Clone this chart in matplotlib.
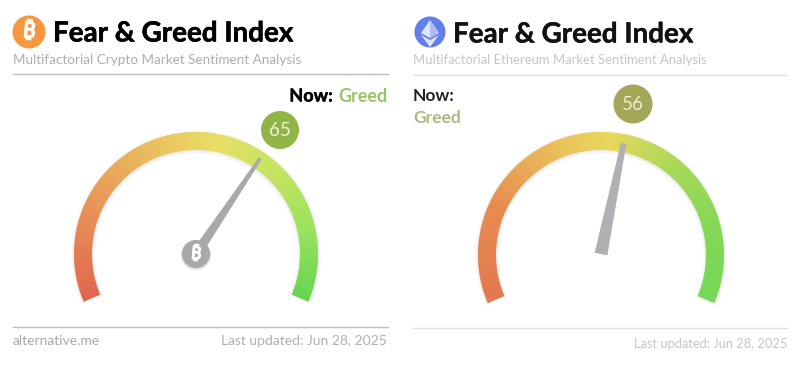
import matplotlib
matplotlib.use('Agg')
import matplotlib.pyplot as plt
import matplotlib.patheffects as pe
import numpy as np
from matplotlib.colors import LinearSegmentedColormap
from matplotlib.patches import Circle, Wedge, Polygon

plt.rcParams['font.family'] = ['Lato', 'Open Sans', 'DejaVu Sans']

# Values
title = 'Fear & Greed Index'
subtitles = ['Multifactorial Crypto Market Sentiment Analysis',
             'Multifactorial Ethereum Market Sentiment Analysis']
values = [65, 56]
states = ['Greed', 'Greed']
updated = 'Last updated: Jun 28, 2025'
source = 'alternative.me'

START, SWEEP = 203, 226  # gauge angles, degrees
BTC_FONTS = ['Noto Sans', 'Roboto', 'Open Sans', 'Inter', 'Liberation Sans', 'Noto Sans CJK SC', 'DejaVu Sans']

left_cmap = LinearSegmentedColormap.from_list('l', [
    (0, '#e0674e'), (0.2, '#e99257'), (0.42, '#ebc35f'), (0.55, '#e9de66'),
    (0.68, '#c8e462'), (0.85, '#9ae25d'), (1, '#66d452')])
right_cmap = LinearSegmentedColormap.from_list('r', [
    (0, '#e2794f'), (0.2, '#e88a50'), (0.42, '#eac55a'), (0.52, '#e8d85c'),
    (0.68, '#a8d858'), (0.85, '#82d856'), (1, '#76d857')])


def angle_of(v):
    return START - v / 100 * SWEEP


def thick(w, color):
    return [pe.withStroke(linewidth=w, foreground=color)]


def gauge(ax, cx, cy, r_out, r_in, cmap):
    # soft shadow under the band
    for grow, a in [(3, 0.03), (2, 0.04), (1, 0.06)]:
        ax.add_patch(Wedge((cx, cy + 1), r_out + grow, -START, -START + SWEEP,
                           width=r_out - r_in + 2 * grow, fc='#808080', ec='none', alpha=a, zorder=1))
    n = 150
    for i in range(n):
        # y axis is flipped, so angles are negated
        a0 = START - SWEEP * i / n
        a1 = START - SWEEP * (i + 1.3) / n
        ax.add_patch(Wedge((cx, cy), r_out, -a0, -max(a1, START - SWEEP),
                           width=r_out - r_in, fc=cmap(i / (n - 1)), ec='none', zorder=2))


def needle(ax, cx, cy, value, length, base_w, tip_w, color, offset=0):
    t = np.radians(angle_of(value) + offset)
    d = np.array([np.cos(t), -np.sin(t)])
    n = np.array([d[1], -d[0]])
    c = np.array([cx, cy])
    tip = c + d * length
    pts = [c + n * base_w / 2, c - n * base_w / 2, tip - n * tip_w / 2, tip + n * tip_w / 2]
    ax.add_patch(Polygon(pts, closed=True, fc=color, ec='none', zorder=4))


fig = plt.figure(figsize=(8, 3.69), dpi=100)
ax = fig.add_axes([0, 0, 1, 1])
ax.set_xlim(0, 800)
ax.set_ylim(369, 0)
ax.axis('off')

# Left panel
ax.add_patch(Circle((29, 32), 16.5, fc='#f7973f', ec='none'))
ax.text(29, 32, '₿', color='white', fontsize=16, fontweight='bold', ha='center', va='center',
        rotation=-5, family=BTC_FONTS, path_effects=thick(1, 'white'))
ax.text(53, 33.5, title, color='black', fontsize=20, fontweight='bold', ha='left', va='center',
        path_effects=thick(0.4, 'black'))
ax.text(13, 60, subtitles[0], color='#aeaeae', fontsize=9.75, ha='left', va='center')
ax.plot([13, 388], [74, 74], color='#bdbdc2', lw=1)
ax.text(333, 96, 'Now:', color='black', fontsize=13, fontweight='bold', ha='right', va='center',
        path_effects=thick(0.3, 'black'))
ax.text(388, 96, states[0], color='#9cc266', fontsize=13, fontweight='bold', ha='right', va='center')

gauge(ax, 196, 254, 122, 104, left_cmap)
needle(ax, 196, 254, values[0], 115, 10, 3.5, '#a9a9a9')
ax.add_patch(Circle((196, 255), 15, fc='#b5b5b5', ec='none', alpha=0.4, zorder=4))
ax.add_patch(Circle((196, 254), 14, fc='#a8a8a8', ec='none', zorder=5))
ax.text(196, 254, '₿', color='white', fontsize=13, fontweight='bold', ha='center', va='center',
        rotation=-5, family=BTC_FONTS, zorder=6, path_effects=thick(0.9, 'white'))
ax.add_patch(Circle((280, 130), 19, fc='#8fb544', ec='none', zorder=6))
ax.text(280, 130, str(values[0]), color='#eef2dc', fontsize=13.5, ha='center', va='center', zorder=7)
ax.plot([13, 388], [327, 327], color='#bdbdc2', lw=1)
ax.text(13, 341, source, color='#a8a8a8', fontsize=10, ha='left', va='center')
ax.text(387, 341, updated, color='#b0b0b0', fontsize=10, ha='right', va='center')

# Right panel
ax.add_patch(Circle((430, 32), 15.5, fc='#627eea', ec='none'))
ax.add_patch(Polygon([(430, 20), (439, 33), (430, 38), (421, 33)], closed=True, fc='#dfe5fb', ec='none', zorder=3))
ax.add_patch(Polygon([(430, 20), (439, 33), (430, 38)], closed=True, fc='#aebdf4', ec='none', zorder=3))
ax.add_patch(Polygon([(421, 35), (430, 47), (439, 35), (430, 40)], closed=True, fc='#dfe5fb', ec='none', zorder=3))
ax.text(453, 34.5, title, color='#111111', fontsize=20, fontweight='bold', ha='left', va='center',
        path_effects=thick(0.3, '#111111'))
ax.text(413, 60, subtitles[1], color='#c6c6c6', fontsize=9.35, ha='left', va='center')
ax.plot([413, 787], [75, 75], color='#e0e0e2', lw=1)
ax.text(413, 96, 'Now:', color='#222222', fontsize=12.5, fontweight='bold', ha='left', va='center')
ax.text(413, 118, states[1], color='#a8bb80', fontsize=12.5, fontweight='bold', ha='left', va='center')

gauge(ax, 601, 255, 123, 105, right_cmap)
needle(ax, 601, 254, values[1], 113, 13, 5.5, '#b0b0b4', offset=2)
ax.add_patch(Circle((633, 104), 19.5, fc='#a3a757', ec='none', zorder=6))
ax.text(633, 104, str(values[1]), color='#eeeed4', fontsize=13.5, ha='center', va='center', zorder=7)
ax.plot([413, 787], [328, 328], color='#e0e0e2', lw=1)
ax.text(787, 344, updated, color='#c6c6c6', fontsize=9.25, ha='right', va='center')

fig.savefig('out.png', dpi=100)
